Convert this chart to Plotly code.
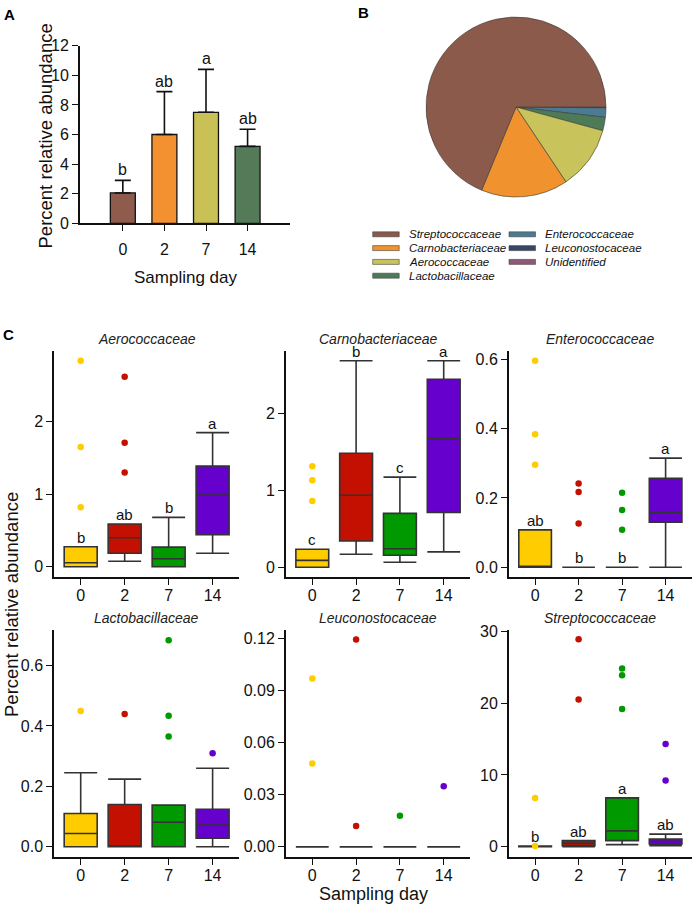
import plotly.graph_objects as go

W, H = 696, 905
FONT = "Liberation Sans, Arial, Helvetica, sans-serif"
INK = "#111111"


def fx(p):
    return p / W


def fy(p):
    return 1 - p / H


# ---------------- data ----------------
days = ["0", "2", "7", "14"]
day_pos = [0, 1, 2, 3]

# Panel A : mean percent relative abundance with upper error bar
a_mean = [2.05, 6.0, 7.5, 5.2]
a_upper = [2.9, 8.9, 10.4, 6.35]
a_letters = ["b", "ab", "a", "ab"]
a_colors = ["#8E5B4C", "#F39030", "#C9C155", "#547A58"]

# Panel B : pie of family shares
families = ["Streptococcaceae", "Carnobacteriaceae", "Aerococcaceae", "Lactobacillaceae",
            "Enterococcaceae", "Leuconostocaceae", "Unidentified"]
pie_share = [68.8, 15.6, 11.4, 2.4, 1.7, 0.1, 0.05]
pie_colors = ["#8B5A4B", "#F0922E", "#C8C35A", "#4E7B57", "#4C7A92", "#364664", "#8E5878"]

# Panel C : box plot summaries per family and day
day_colors = ["#FFCC00", "#C41000", "#009A00", "#6600CC"]

aero_low = [0.0, 0.075, 0.0, 0.185]
aero_q1 = [0.0, 0.185, 0.0, 0.44]
aero_med = [0.055, 0.40, 0.11, 0.99]
aero_q3 = [0.276, 0.59, 0.27, 1.39]
aero_high = [0.276, 0.59, 0.68, 1.85]
aero_out = [[0.82, 1.65, 2.84], [1.30, 1.71, 2.62], [], []]
aero_letters = ["b", "ab", "b", "a"]

carno_low = [0.0, 0.17, 0.065, 0.20]
carno_q1 = [0.0, 0.34, 0.156, 0.71]
carno_med = [0.09, 0.935, 0.24, 1.67]
carno_q3 = [0.234, 1.48, 0.70, 2.44]
carno_high = [0.234, 2.68, 1.17, 2.68]
carno_out = [[0.86, 1.13, 1.31], [], [], []]
carno_letters = ["c", "b", "c", "a"]

entero_low = [0.0, 0.0, 0.0, 0.0]
entero_q1 = [0.0, 0.0, 0.0, 0.13]
entero_med = [0.0, 0.0, 0.0, 0.158]
entero_q3 = [0.108, 0.0, 0.0, 0.257]
entero_high = [0.108, 0.0, 0.0, 0.315]
entero_out = [[0.296, 0.384, 0.596], [0.126, 0.217, 0.242], [0.108, 0.165, 0.215], []]
entero_letters = ["ab", "b", "b", "a"]

lacto_low = [0.0, 0.0, 0.0, 0.0]
lacto_q1 = [0.0, 0.0, 0.0, 0.028]
lacto_med = [0.044, 0.0, 0.081, 0.072]
lacto_q3 = [0.11, 0.14, 0.138, 0.124]
lacto_high = [0.245, 0.224, 0.138, 0.26]
lacto_out = [[0.45], [0.44], [0.365, 0.434, 0.684], [0.31]]
lacto_letters = ["", "", "", ""]

leuco_low = [0.0, 0.0, 0.0, 0.0]
leuco_q1 = [0.0, 0.0, 0.0, 0.0]
leuco_med = [0.0, 0.0, 0.0, 0.0]
leuco_q3 = [0.0, 0.0, 0.0, 0.0]
leuco_high = [0.0, 0.0, 0.0, 0.0]
leuco_out = [[0.048, 0.097], [0.012, 0.1195], [0.018], [0.035]]
leuco_letters = ["", "", "", ""]

strep_low = [0.0, 0.0, 0.28, 0.15]
strep_q1 = [0.0, 0.15, 0.84, 0.38]
strep_med = [0.03, 0.5, 2.2, 0.75]
strep_q3 = [0.1, 0.85, 6.8, 1.05]
strep_high = [0.1, 0.85, 6.8, 1.75]
strep_out = [[0.1, 6.77], [20.5, 28.9], [19.2, 23.9, 24.85], [9.23, 14.3]]
strep_letters = ["b", "ab", "a", "ab"]

# ---------------- figure ----------------
fig = go.Figure()
annotations = []
shapes = []


def ptext(x, y, text, size, **kw):
    d = dict(x=fx(x), y=fy(y), xref="paper", yref="paper", text=text, showarrow=False,
             xanchor="center", yanchor="middle", font=dict(family=FONT, size=size, color=INK))
    d.update(kw)
    return d


axis_common = dict(showline=True, linecolor=INK, linewidth=2, ticks="outside", ticklen=6,
                   tickwidth=1.3, tickcolor=INK, showgrid=False, zeroline=False,
                   tickfont=dict(family=FONT, size=16, color=INK), mirror=False, fixedrange=True)

# ----- Panel A -----
fig.add_trace(go.Bar(
    x=day_pos, y=a_mean, width=0.6, marker=dict(color=a_colors, line=dict(color=INK, width=1.3)),
    error_y=dict(type="data", symmetric=False, array=[u - m for u, m in zip(a_upper, a_mean)],
                 arrayminus=[0] * 4, color=INK, thickness=1.6, width=8),
    xaxis="x", yaxis="y", showlegend=False))
for i, lab in enumerate(a_letters):
    annotations.append(dict(x=day_pos[i], y=a_upper[i], xref="x", yref="y", text=lab,
                            showarrow=False, xanchor="center", yanchor="bottom", yshift=0,
                            font=dict(family=FONT, size=16, color=INK)))

layout_axes = {}
layout_axes["xaxis"] = dict(axis_common, domain=[fx(80), fx(290)], range=[-1.03, 4.02],
                            tickvals=day_pos, ticktext=days, anchor="y", ticklabelstandoff=4)
layout_axes["yaxis"] = dict(axis_common, domain=[fy(223.3), fy(45.7)], range=[0, 12], dtick=2,
                            anchor="x")
annotations.append(ptext(186, 277, "Sampling day", 17))
annotations.append(ptext(45, 136.5, "Percent relative abundance", 18.5, textangle=-90))

# ----- Panel B -----
cx, cy, r = 516, 107, 90
fig.add_trace(go.Pie(
    labels=families[::-1], values=pie_share[::-1], sort=False, direction="clockwise", rotation=90,
    marker=dict(colors=pie_colors[::-1], line=dict(color="#3a3a3a", width=0.6)),
    textinfo="none", hoverinfo="label+percent", showlegend=False,
    domain=dict(x=[fx(cx - r), fx(cx + r)], y=[fy(cy + r), fy(cy - r)])))

leg_sw_x = [372.7, 509.0]
leg_tx_x = [406.7, 543.0]
for i, fam in enumerate(families):
    col = 0 if i < 4 else 1
    row = i if i < 4 else i - 4
    yc = 234.3 + row * 13.8
    shapes.append(dict(type="rect", xref="paper", yref="paper",
                       x0=fx(leg_sw_x[col]), x1=fx(leg_sw_x[col] + 26.5),
                       y0=fy(yc + 2.5), y1=fy(yc - 2.5),
                       fillcolor=pie_colors[i], line=dict(color="#444444", width=0.6)))
    annotations.append(ptext(leg_tx_x[col], yc, "<i>%s</i>" % fam, 11.5, xanchor="left"))

# ----- Panel C -----
panels = [
    ("Aerococcaceae", aero_low, aero_q1, aero_med, aero_q3, aero_high, aero_out, aero_letters,
     [-0.146, 2.98], [0, 1, 2], ["0", "1", "2"]),
    ("Carnobacteriaceae", carno_low, carno_q1, carno_med, carno_q3, carno_high, carno_out, carno_letters,
     [-0.13, 2.81], [0, 1, 2], ["0", "1", "2"]),
    ("Enterococcaceae", entero_low, entero_q1, entero_med, entero_q3, entero_high, entero_out, entero_letters,
     [-0.029, 0.625], [0, 0.2, 0.4, 0.6], ["0.0", "0.2", "0.4", "0.6"]),
    ("Lactobacillaceae", lacto_low, lacto_q1, lacto_med, lacto_q3, lacto_high, lacto_out, lacto_letters,
     [-0.035, 0.718], [0, 0.2, 0.4, 0.6], ["0.0", "0.2", "0.4", "0.6"]),
    ("Leuconostocaceae", leuco_low, leuco_q1, leuco_med, leuco_q3, leuco_high, leuco_out, leuco_letters,
     [-0.006, 0.125], [0, 0.03, 0.06, 0.09, 0.12], ["0.00", "0.03", "0.06", "0.09", "0.12"]),
    ("Streptococcaceae", strep_low, strep_q1, strep_med, strep_q3, strep_high, strep_out, strep_letters,
     [-1.48, 30.2], [0, 10, 20, 30], ["0", "10", "20", "30"]),
]
col_px = [(54.3, 239.0), (286.0, 470.0), (509.0, 691.7)]
row_px = [(350.7, 577.3), (630.0, 857.3)]

for k, (name, low, q1, med, q3, high, outs, letters, yr, tv, tt) in enumerate(panels):
    n = k + 2
    xa, ya = "x%d" % n, "y%d" % n
    col, row = k % 3, k // 3
    x0p, x1p = col_px[col]
    y0p, y1p = row_px[row]
    for i in range(4):
        fig.add_trace(go.Box(
            x=[day_pos[i]], q1=[q1[i]], median=[med[i]], q3=[q3[i]],
            lowerfence=[low[i]], upperfence=[high[i]], width=0.75, whiskerwidth=1,
            fillcolor=day_colors[i], line=dict(color="#333333", width=1.6),
            boxpoints=False, xaxis=xa, yaxis=ya, showlegend=False))
        if outs[i]:
            fig.add_trace(go.Scatter(
                x=[day_pos[i]] * len(outs[i]), y=outs[i], mode="markers",
                marker=dict(color=day_colors[i], size=6.5), xaxis=xa, yaxis=ya, showlegend=False))
        if letters[i]:
            annotations.append(dict(x=day_pos[i], y=max(q3[i], high[i]), xref=xa, yref=ya,
                                    text=letters[i], showarrow=False, xanchor="center",
                                    yanchor="bottom", yshift=-1,
                                    font=dict(family=FONT, size=15, color=INK)))
    layout_axes["xaxis%d" % n] = dict(axis_common, domain=[fx(x0p), fx(x1p)], range=[-0.6, 3.6],
                                      tickvals=day_pos, ticktext=days, anchor=ya,
                                      ticklabelstandoff=-4)
    layout_axes["yaxis%d" % n] = dict(axis_common, domain=[fy(y1p), fy(y0p)], range=yr,
                                      tickvals=tv, ticktext=tt, anchor=xa)
    annotations.append(ptext((x0p + x1p) / 2, y0p - 12, "<i>%s</i>" % name, 14,
                             font=dict(family=FONT, size=14, color="#222222")))

annotations.append(ptext(373, 893.5, "Sampling day", 18))
annotations.append(ptext(11, 605, "Percent relative abundance", 18.5, textangle=-90))

# panel letters
for lab, (px_, py_) in zip(["A", "B", "C"], [(9, 14), (363, 12), (8.5, 334)]):
    annotations.append(ptext(px_, py_, "<b>%s</b>" % lab, 15,
                             font=dict(family=FONT, size=15, color="#000000")))

fig.update_layout(
    width=W, height=H, margin=dict(l=0, r=0, t=0, b=0, pad=0, autoexpand=False),
    paper_bgcolor="white", plot_bgcolor="white", showlegend=False,
    boxmode="overlay", font=dict(family=FONT, color=INK),
    annotations=annotations, shapes=shapes, **layout_axes)

fig.write_html("out.html", config={"displayModeBar": False, "staticPlot": False},
               post_script="document.body.style.margin='0px';")
